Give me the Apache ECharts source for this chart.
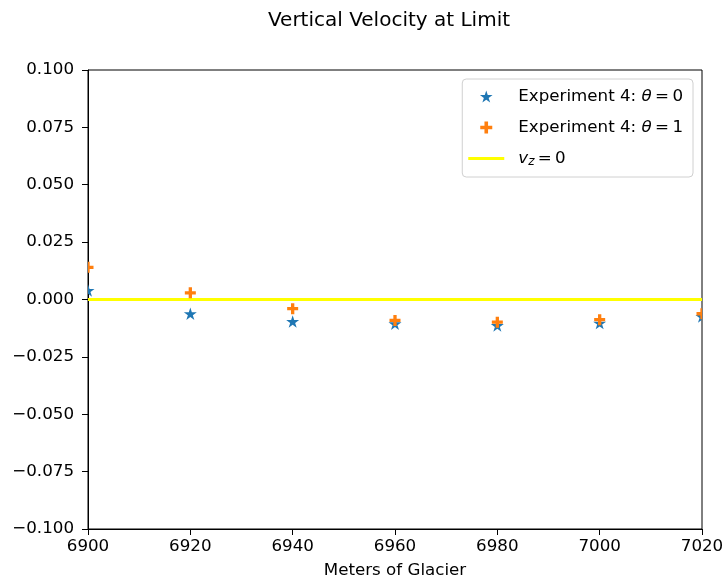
<!DOCTYPE html>
<html>
<head>
<meta charset="utf-8">
<script src="https://cdn.jsdelivr.net/npm/echarts@6/dist/echarts.min.js"></script>
<style>
  html, body { margin: 0; padding: 0; background: #fff; }
  #chart { width: 724px; height: 584px; }
</style>
</head>
<body>
<div id="chart"></div>
<script>
// Positions along the glacier (m)
const positions = [6900, 6920, 6940, 6960, 6980, 7000, 7020];
// Vertical velocity at the limit, theta = 0
const vzTheta0 = [0.0039, -0.0062, -0.0096, -0.0106, -0.0113, -0.0103, -0.0074];
// Vertical velocity at the limit, theta = 1
const vzTheta1 = [0.0140, 0.0029, -0.0040, -0.0091, -0.0099, -0.0088, -0.0062];
// Reference level v_z = 0
const zeroLevel = 0;

const xTicks = { min: 6900, max: 7020, step: 20 };
const yTicks = { min: -0.1, max: 0.1, step: 0.025 };

const FONT = 'DejaVu Sans';
const STAR_D = 'M50 0 L61.17 34.63 L97.55 34.55 L68.07 55.87 L79.39 90.45 L50 69 L20.61 90.45 L31.93 55.87 L2.45 34.55 L38.83 34.63 Z';
const PLUS_D = 'M35 0 H65 V35 H100 V65 H65 V100 H35 V65 H0 V35 H35 Z';
const BAR = 'path://M0 0 H100 V8 H0 Z';
const BLUE = '#1f77b4', ORANGE = '#ff7f0e', YELLOW = '#ffff00';
const TS = '\u2009';

const pairs = (xs, ys) => xs.map((x, i) => [x, ys[i]]);

const fmtY = v => {
  if (Math.abs(v) < 1e-9) return '0.000';
  return (v < 0 ? '\u2212' : '') + Math.abs(v).toFixed(3);
};

// Marker series drawn as paths, clipped to the plotting area like the axes frame
function markerSeries(name, values, pathData, w, h, color, z) {
  return {
    name,
    type: 'custom',
    data: pairs(positions, values),
    clip: true,
    z,
    itemStyle: { color },
    renderItem: (params, api) => {
      const p = api.coord([api.value(0), api.value(1)]);
      return {
        type: 'path',
        shape: { pathData, x: p[0] - w / 2, y: p[1] - h / 2, width: w, height: h, layout: 'cover' },
        style: { fill: color }
      };
    }
  };
}

const chart = echarts.init(document.getElementById('chart'), null, { renderer: 'canvas' });

chart.setOption({
  animation: false,
  backgroundColor: '#fff',
  title: {
    text: 'Vertical Velocity at Limit',
    left: 384, top: 6, textAlign: 'center',
    textStyle: { fontFamily: FONT, fontSize: 20, fontWeight: 'normal', color: '#000' }
  },
  grid: {
    left: 88, right: 22, top: 70, bottom: 55,
    outerBoundsMode: 'none',
    containLabel: false,
    show: true, borderColor: '#000', borderWidth: 1, backgroundColor: 'transparent'
  },
  xAxis: {
    type: 'value',
    min: xTicks.min, max: xTicks.max, interval: xTicks.step,
    name: 'Meters of Glacier', nameLocation: 'middle', nameGap: 33,
    nameTextStyle: { fontFamily: FONT, fontSize: 16.7, color: '#000' },
    axisLine: { show: true, onZero: false, lineStyle: { color: '#000', width: 1 } },
    axisTick: { show: true, inside: false, length: 6, lineStyle: { color: '#000' } },
    axisLabel: { margin: 9, fontFamily: FONT, fontSize: 16.7, color: '#000',
      formatter: v => String(v), showMinLabel: true, showMaxLabel: true },
    splitLine: { show: false }
  },
  yAxis: {
    type: 'value',
    min: yTicks.min, max: yTicks.max, interval: yTicks.step,
    axisLine: { show: true, onZero: false, lineStyle: { color: '#000', width: 1 } },
    axisTick: { show: true, inside: false, length: 6, lineStyle: { color: '#000' } },
    axisLabel: { margin: 14, fontFamily: FONT, fontSize: 16.7, color: '#000', formatter: fmtY,
      showMinLabel: true, showMaxLabel: true },
    splitLine: { show: false }
  },
  legend: {
    orient: 'vertical',
    right: 31, top: 79,
    padding: [9, 10, 9, 6],
    itemGap: 14,
    itemWidth: 36, itemHeight: 12,
    symbolKeepAspect: true,
    backgroundColor: 'rgba(255,255,255,0.8)',
    borderColor: '#d0d0d0', borderWidth: 1, borderRadius: 4,
    data: [
      { name: 'theta0', icon: 'path://' + STAR_D, itemStyle: { color: BLUE } },
      { name: 'theta1', icon: 'path://' + PLUS_D, itemStyle: { color: ORANGE } },
      { name: 'vz0', icon: BAR, itemStyle: { color: YELLOW } }
    ],
    formatter: name => {
      if (name === 'theta0') return '{n|Experiment 4: }{i|θ}{n|' + TS + '=' + TS + '0}';
      if (name === 'theta1') return '{n|Experiment 4: }{i|θ}{n|' + TS + '=' + TS + '1}';
      return '{i|v}{s|z}{n|' + TS + '=' + TS + '0}';
    },
    textStyle: {
      fontFamily: FONT, fontSize: 16.7, color: '#000', padding: [0, 0, 0, 9],
      rich: {
        n: { fontFamily: FONT, fontSize: 16.7, color: '#000' },
        i: { fontFamily: FONT, fontSize: 16.7, fontStyle: 'italic', color: '#000' },
        s: { fontFamily: FONT, fontSize: 12, fontStyle: 'italic', color: '#000', padding: [7, 0, 0, 0] }
      }
    }
  },
  series: [
    {
      name: 'vz0',
      type: 'line',
      data: [[xTicks.min, zeroLevel], [xTicks.max, zeroLevel]],
      symbol: 'none',
      lineStyle: { color: YELLOW, width: 3 },
      itemStyle: { color: YELLOW },
      z: 1
    },
    markerSeries('theta0', vzTheta0, STAR_D, 13, 12.4, BLUE, 3),
    markerSeries('theta1', vzTheta1, PLUS_D, 11, 11, ORANGE, 4)
  ]
});
</script>
</body>
</html>
